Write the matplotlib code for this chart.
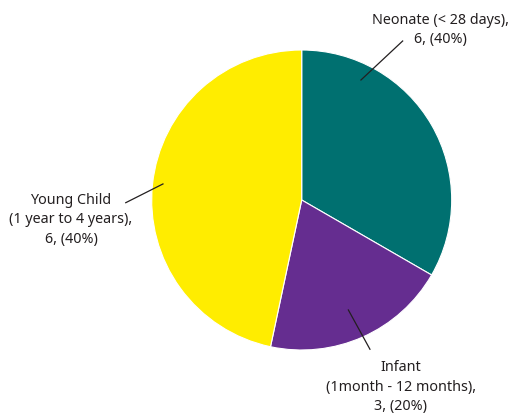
import matplotlib.pyplot as plt
import numpy as np

# valeurs des secteurs (telles que dessinées) et textes des étiquettes
categories = ["Neonate (< 28 days)", "Infant\n(1month - 12 months)", "Young Child\n(1 year to 4 years)"]
valeurs = [5, 3, 7]
comptes = [6, 3, 6]
pourcentages = [40, 20, 40]
couleurs = ["#007070", "#652d90", "#ffed00"]

fig = plt.figure(figsize=(5.16, 4.16), dpi=100)
ax = fig.add_axes([151.7 / 516, 66 / 416, 300 / 516, 300 / 416])

ax.pie(valeurs, colors=couleurs, startangle=90, counterclock=False,
       wedgeprops=dict(edgecolor="white", linewidth=0.8))
ax.set_xlim(-1, 1)
ax.set_ylim(-1, 1)
ax.set_aspect("equal")
ax.axis("off")

# position des étiquettes et des traits de rappel
pos_texte = [(0.928, 1.133), (0.661, -1.247), (-1.538, -0.133)]
traits = [((0.395, 0.8), (0.673, 1.06)),
          ((0.311, -0.733), (0.455, -0.995)),
          ((-0.925, 0.107), (-1.173, -0.018))]

for cat, n, p, (tx, ty), (a, b) in zip(categories, comptes, pourcentages, pos_texte, traits):
    ax.plot([a[0], b[0]], [a[1], b[1]], color="#231f20", lw=0.9, clip_on=False)
    ax.text(tx, ty, f"{cat},\n{n}, ({p}%)", ha="center", va="center",
            multialignment="center", fontsize=10.3, family="Noto Sans",
            color="#231f20", linespacing=1.38, clip_on=False)

fig.savefig("out.png", dpi=100)
